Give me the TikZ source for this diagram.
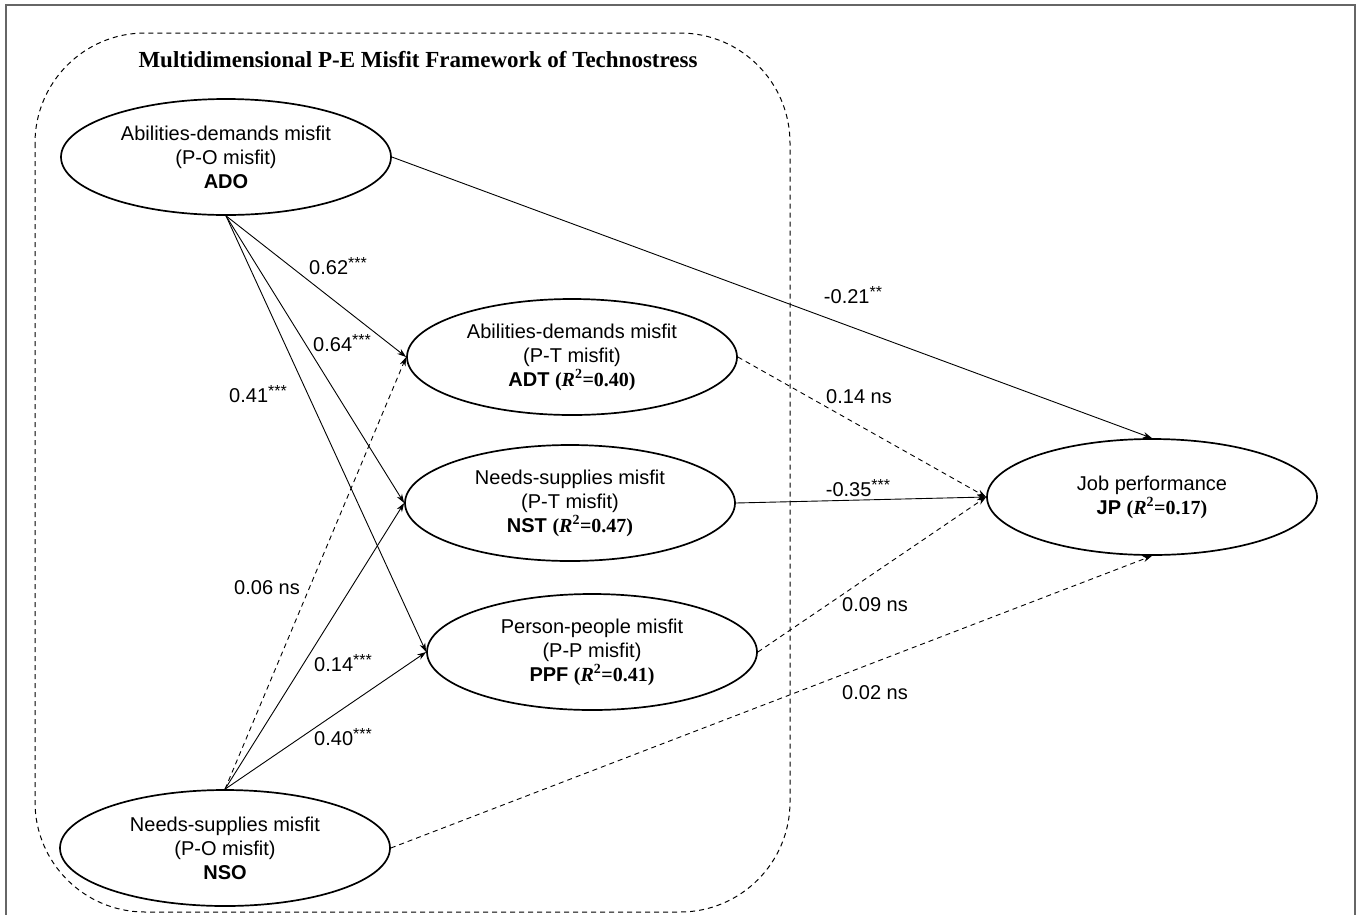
\documentclass[tikz,border=0pt]{standalone}
\usepackage{fontspec}
\setmainfont{Liberation Serif}
\setsansfont{Liberation Sans}
\usetikzlibrary{shapes.geometric,arrows.meta}
\newcommand{\myrsq}[1]{{\rmfamily\bfseries(\textit{R}\textsuperscript{2}=#1)}}
\newcommand{\mysig}[1]{\raisebox{6pt}{\fontsize{16}{16}\selectfont #1}}
\begin{document}
\begin{tikzpicture}[x=1pt,y=-1pt,
  lv/.style={ellipse,draw,line width=1.7pt,inner sep=0pt,minimum width=330pt,minimum height=116pt,align=center,font=\sffamily\fontsize{20}{24}\selectfont},
  pth/.style={line width=0.9pt,-{Stealth[length=9pt,width=6pt]}},
  nsp/.style={pth,dash pattern=on 5pt off 4pt},
  lab/.style={font=\sffamily\fontsize{20}{24}\selectfont,inner sep=1pt},
  grp/.style={line width=1pt,dash pattern=on 5pt off 4pt,rounded corners=110pt}]
\useasboundingbox (0,0) rectangle (1357,914);
% outer frame
\draw[line width=2pt,draw=black!60] (6,916) -- (6,5) -- (1355,5) -- (1355,916);
% group
\draw[grp] (35,33) rectangle (790,912);
\node[font=\rmfamily\bfseries\fontsize{23}{27}\selectfont] (title) at (418,60) {Multidimensional P-E Misfit Framework of Technostress};
% latent variables
\node[lv] (ADO) at (226,157) {Abilities-demands misfit\\(P-O misfit)\\\textbf{ADO}};
\node[lv] (NSO) at (225,848) {Needs-supplies misfit\\(P-O misfit)\\\textbf{NSO}};
\node[lv] (ADT) at (572,357) {Abilities-demands misfit\\(P-T misfit)\\\textbf{ADT} \myrsq{0.40}};
\node[lv] (NST) at (570,503) {Needs-supplies misfit\\(P-T misfit)\\\textbf{NST} \myrsq{0.47}};
\node[lv] (PPF) at (592,652) {Person-people misfit\\(P-P misfit)\\\textbf{PPF} \myrsq{0.41}};
\node[lv] (JP) at (1152,497) {Job performance\\\textbf{JP} \myrsq{0.17}};
% paths
\draw[pth] (ADO.south) -- (ADT.west);
\draw[pth] (ADO.south) -- (NST.west);
\draw[pth] (ADO.south) -- (PPF.west);
\draw[nsp] (NSO.north) -- (ADT.west);
\draw[pth] (NSO.north) -- (NST.west);
\draw[pth] (NSO.north) -- (PPF.west);
\draw[pth] (ADO.east) -- (JP.north);
\draw[nsp] (ADT.east) -- (JP.west);
\draw[pth] (NST.east) -- (JP.west);
\draw[nsp] (PPF.east) -- (JP.west);
\draw[nsp] (NSO.east) -- (JP.south);
% labels
\node[lab] (l1) at (338,266) {0.62\mysig{***}};
\node[lab] (l2) at (342,343) {0.64\mysig{***}};
\node[lab] (l3) at (258,394) {0.41\mysig{***}};
\node[lab] (l4) at (267,588) {0.06 ns};
\node[lab] (l5) at (343,663) {0.14\mysig{***}};
\node[lab] (l6) at (343,737) {0.40\mysig{***}};
\node[lab] (l7) at (853,295) {-0.21\mysig{**}};
\node[lab] (l8) at (859,397) {0.14 ns};
\node[lab] (l9) at (858,488) {-0.35\mysig{***}};
\node[lab] (l10) at (875,605) {0.09 ns};
\node[lab] (l11) at (875,693) {0.02 ns};
\end{tikzpicture}
\end{document}
